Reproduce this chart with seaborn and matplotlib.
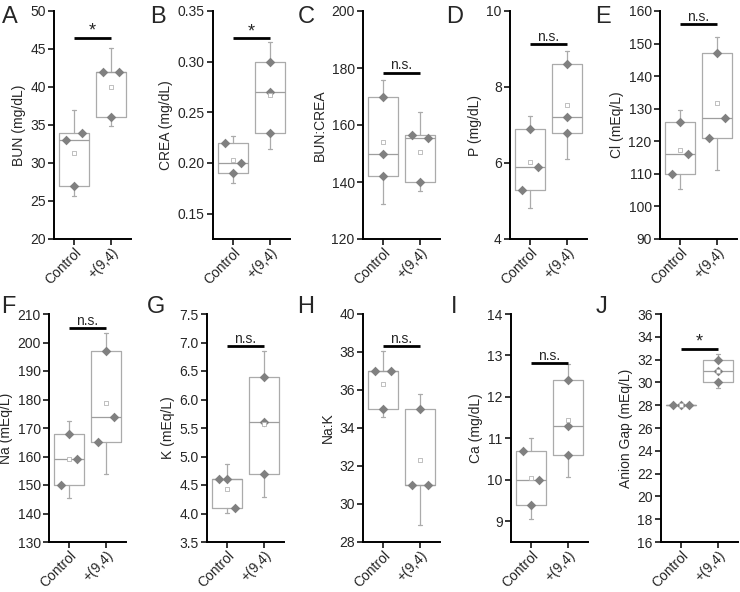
import numpy as np
import pandas as pd
import seaborn as sns
import matplotlib.pyplot as plt

# panel data (three animals per group)
letters = ["A", "B", "C", "D", "E", "F", "G", "H", "I", "J"]
ylabels = ["BUN (mg/dL)", "CREA (mg/dL)", "BUN:CREA", "P (mg/dL)", "Cl (mEq/L)",
           "Na (mEq/L)", "K (mEq/L)", "Na:K", "Ca (mg/dL)", "Anion Gap (mEq/L)"]
groups = ["Control", "+(9,4)"]

control = [[33, 34, 27], [0.22, 0.20, 0.19], [150, 170, 142], [6.9, 5.9, 5.3],
           [126, 116, 110], [168, 159, 150], [4.6, 4.6, 4.1], [37, 37, 35],
           [10.7, 10.0, 9.4], [28, 28, 28]]
treated = [[42, 42, 36], [0.30, 0.27, 0.23], [140, 155.5, 156.5], [8.6, 7.2, 6.8],
           [147, 127, 121], [197, 174, 165], [6.4, 5.6, 4.7], [35, 31, 31],
           [12.4, 11.3, 10.6], [32, 31, 30]]
significance = ["*", "*", "n.s.", "n.s.", "n.s.", "n.s.", "n.s.", "n.s.", "n.s.", "*"]

ylims = [(20, 50), (0.125, 0.35), (120, 200), (4, 10), (90, 160),
         (130, 210), (3.5, 7.5), (28, 40), (8.5, 14), (16, 36)]
yticks = [np.arange(20, 51, 5), np.arange(0.15, 0.351, 0.05), np.arange(120, 201, 20),
          np.arange(4, 11, 2), np.arange(90, 161, 10), np.arange(130, 211, 10),
          np.arange(3.5, 7.51, 0.5), np.arange(28, 41, 2), np.arange(9, 15, 1),
          np.arange(16, 37, 2)]
tick_fmt = ["%d", "%.2f", "%d", "%d", "%d", "%d", "%.1f", "%d", "%d", "%d"]

# where points sit side by side (-1 left, 0 centre, 1 right)
ctrl_slot = [[-1, 1, 0], [-1, 1, 0], [0, 0, 0], [0, 1, -1], [0, 1, -1],
             [0, 1, -1], [-1, 0, 1], [-1, 1, 0], [-1, 1, 0], [-1, 0, 1]]
trt_slot = [[-1, 1, 0], [0, 0, 0], [0, 1, -1], [0, 0, 0], [0, 1, -1],
            [0, 1, -1], [0, 0, 0], [0, -1, 1], [0, 0, 0], [0, 0, 0]]
bar_y = [46.5, 0.323, 178.4, 9.12, 156, 205, 6.93, 38.3, 12.81, 32.94]

# axes placement in pixels
top_lefts = [54, 213, 363, 510, 660]
bot_lefts = [49, 207, 363, 511, 661]
letter_x = [2, 150, 298, 446, 595, 1, 147, 297, 451, 596]

box_c = "#ababab"
point_c = "#808080"


def box_stats(vals):
    v = np.asarray(vals, float)
    m = v.mean()
    sd = v.std(ddof=1)
    return dict(med=np.median(v),
                q1=np.percentile(v, 25, method="weibull"),
                q3=np.percentile(v, 75, method="weibull"),
                whislo=m - 1.5 * sd, whishi=m + 1.5 * sd, mean=m, fliers=[])


sns.set_style("ticks")
plt.rcParams["font.family"] = ["Liberation Sans", "DejaVu Sans"]
plt.rcParams["font.size"] = 10

W, H = 740, 592
fig = plt.figure(figsize=(W / 100, H / 100), dpi=100)

for i in range(10):
    row = i // 5
    left = (top_lefts if row == 0 else bot_lefts)[i % 5]
    top = 11 if row == 0 else 314
    ax = fig.add_axes([left / W, 1 - (top + 228) / H, 77 / W, 228 / H])

    stats = [box_stats(control[i]), box_stats(treated[i])]
    line = dict(color=box_c, lw=0.9)
    ax.bxp(stats, positions=[0, 1], widths=0.82, capwidths=0.12,
           showfliers=False, showmeans=False,
           boxprops=line, whiskerprops=line, capprops=line,
           medianprops=dict(color="#9e9e9e", lw=0.9))

    pts = pd.DataFrame({
        "x": np.r_[0 + 0.21 * np.array(ctrl_slot[i]), 1 + 0.21 * np.array(trt_slot[i])],
        "y": np.r_[control[i], treated[i]],
    })
    sns.scatterplot(data=pts, x="x", y="y", marker="D", s=24, color=point_c,
                    edgecolor=point_c, linewidth=0, ax=ax, zorder=3)
    means = pd.DataFrame({"x": [0, 1], "y": [s["mean"] for s in stats]})
    sns.scatterplot(data=means, x="x", y="y", marker="s", s=8, color="white",
                    edgecolor="#b5b5b5", linewidth=0.6, ax=ax, zorder=4)

    ax.plot([0, 1], [bar_y[i]] * 2, color="k", lw=2, solid_capstyle="butt",
            clip_on=False, zorder=5)
    star = significance[i] == "*"
    ax.annotate(significance[i], xy=(0.5, bar_y[i]), xytext=(0, 1.5 if star else 2.5),
                textcoords="offset points", ha="center", va="baseline",
                fontsize=13 if star else 10, annotation_clip=False)

    ax.set_xlim(-0.55, 1.55)
    ax.set_ylim(*ylims[i])
    ax.set_yticks(yticks[i], [tick_fmt[i] % t for t in yticks[i]])
    ax.set_xticks([0, 1], groups, rotation=45, ha="right", rotation_mode="anchor")
    ax.set_xlabel("")
    ax.set_ylabel(ylabels[i], fontsize=10, labelpad=3)
    ax.tick_params(axis="y", width=1.1, length=4, labelsize=10, color="k", pad=2)
    ax.tick_params(axis="x", width=1.1, length=4, labelsize=10, color="k", pad=0.5)
    for sp in ["left", "bottom"]:
        ax.spines[sp].set_linewidth(1.4)
        ax.spines[sp].set_color("k")
    sns.despine(ax=ax)

    fig.text(letter_x[i] / W, 1 - (23 if row == 0 else 313) / H, letters[i],
             fontsize=17, va="baseline", ha="left")

fig.savefig("out.png", dpi=100)
